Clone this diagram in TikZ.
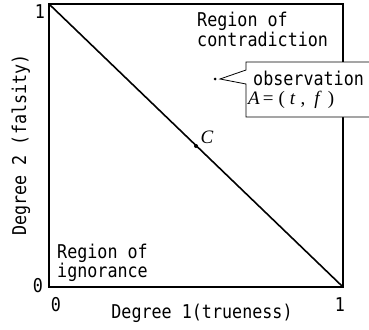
\documentclass[tikz,border=0pt]{standalone}
\usepackage{fontspec}
\newfontfamily\gothic[FakeStretch=0.88]{DejaVu Sans Mono}
\newfontfamily\timesf{Liberation Serif}
\begin{document}
\begin{tikzpicture}[x=1pt,y=-1pt,
  lbl/.style={inner sep=0pt,font=\gothic\fontsize{19}{22}\selectfont},
  mth/.style={inner sep=0pt,font=\timesf\fontsize{19}{22}\selectfont},
  frame/.style={line width=2.8pt},
  diag/.style={line width=1.6pt},
  callout/.style={draw,fill=white,line width=0.8pt}]
\useasboundingbox (0,0) rectangle (369,329);
\coordinate (tl) at (49,4);
\coordinate (br) at (343,287);
\draw[frame] (tl) rectangle (br);
\draw[diag] (tl) -- (br);
\fill (196,146) circle (2pt) coordinate (C);
\node[mth] (Clabel) at (207,137) {\itshape C};
% callout
\draw[callout] (375,62) -- (246,62) -- (246,70) -- (220,79) -- (246,84) -- (246,117) -- (375,117);
\fill (215,79) circle (1.5pt) coordinate (A);
\node[lbl,anchor=base west] (obs) at (253,85) {observation};
\node[mth,anchor=base west] (Aeq) at (248,104) {\textit{A}\hspace{3pt}=\hspace{5pt}(\hspace{5pt}\textit{t}\hspace{5pt},\hspace{9pt}\textit{f}\hspace{6pt})};
% regions
\node[lbl,anchor=base west] (rc1) at (197,27) {Region of};
\node[lbl,anchor=base west] (rc2) at (197,46) {contradiction};
\node[lbl,anchor=base west] (ri1) at (57,258) {Region of};
\node[lbl,anchor=base west] (ri2) at (57,277) {ignorance};
% axis labels
\node[lbl] (y1) at (40,12) {1};
\node[lbl] (y0) at (38,286) {0};
\node[lbl] (x0) at (56,305) {0};
\node[lbl] (x1) at (340,305) {1};
\node[lbl,anchor=base] (xlab) at (202,318) {Degree 1(trueness)};
\node[lbl,anchor=base,rotate=90] (ylab) at (26,145) {Degree 2 (falsity)};
\end{tikzpicture}
\end{document}
